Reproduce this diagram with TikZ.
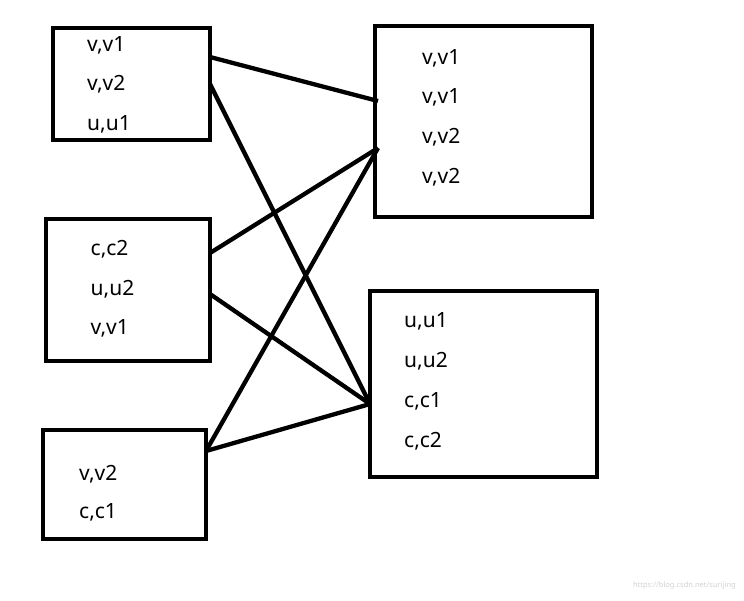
\documentclass[tikz,border=0pt]{standalone}
\usepackage{fontspec}
\setmainfont{Noto Sans}
\usetikzlibrary{calc}
\begin{document}
\begin{tikzpicture}[x=1pt,y=-1pt,
  box/.style={draw=black,line width=4.6pt,inner sep=0pt,outer sep=0pt,rectangle},
  lbl/.style={anchor=base west,inner sep=0pt,font=\fontsize{21}{25}\selectfont},
  link/.style={draw=black,line width=4.3pt},
  wm/.style={anchor=east,inner sep=0pt,text=black!18,font=\fontsize{7.5}{9}\selectfont}]
\useasboundingbox (0,0) rectangle (744,600);
% boxes
\node[box,minimum width=157pt,minimum height=112pt] (A) at (131.5,84) {};
\node[box,minimum width=164pt,minimum height=142pt] (B) at (128,290) {};
\node[box,minimum width=163pt,minimum height=109pt] (C) at (124.5,484.5) {};
\node[box,minimum width=217pt,minimum height=191pt] (D) at (483.5,121.5) {};
\node[box,minimum width=227pt,minimum height=186pt] (E) at (483.5,384) {};
% labels
\node[lbl] (a1t) at (87,51) {v,v1};
\node[lbl] (a2t) at (87,90.5) {v,v2};
\node[lbl] (a3t) at (87,130) {u,u1};
\node[lbl] (b1t) at (90.5,255) {c,c2};
\node[lbl] (b2t) at (90.5,295) {u,u2};
\node[lbl] (b3t) at (90.5,334) {v,v1};
\node[lbl] (c1t) at (79,480) {v,v2};
\node[lbl] (c2t) at (79,518) {c,c1};
\node[lbl] (d1t) at (422,64) {v,v1};
\node[lbl] (d2t) at (422,103) {v,v1};
\node[lbl] (d3t) at (422,143) {v,v2};
\node[lbl] (d4t) at (422,183) {v,v2};
\node[lbl] (e1t) at (404,327) {u,u1};
\node[lbl] (e2t) at (404,367) {u,u2};
\node[lbl] (e3t) at (404,407) {c,c1};
\node[lbl] (e4t) at (404,447) {c,c2};
% attachment points
\coordinate (pa1) at (A.east |- 0,57);
\coordinate (pa2) at (A.east |- 0,84);
\coordinate (pb1) at (B.east |- 0,253);
\coordinate (pb2) at (B.east |- 0,294);
\coordinate (pc1) at (C.east |- 0,451);
\coordinate (pd1) at ($(D.west |- 0,101)+(3,0)$);
\coordinate (pd2) at ($(D.west |- 0,148)+(3,0)$);
\coordinate (pe1) at (E.west |- 0,404);
% connectors
\draw[link] (pa1) -- (pd1);
\draw[link] (pa2) -- (pe1);
\draw[link] (pb1) -- (pd2);
\draw[link] (pb2) -- (pe1);
\draw[link] (pc1) -- (pd2);
\draw[link] (pc1) -- (pe1);
% watermark
\node[wm] (wmk) at (736,586) {https://blog.csdn.net/surijing};
\end{tikzpicture}
\end{document}
